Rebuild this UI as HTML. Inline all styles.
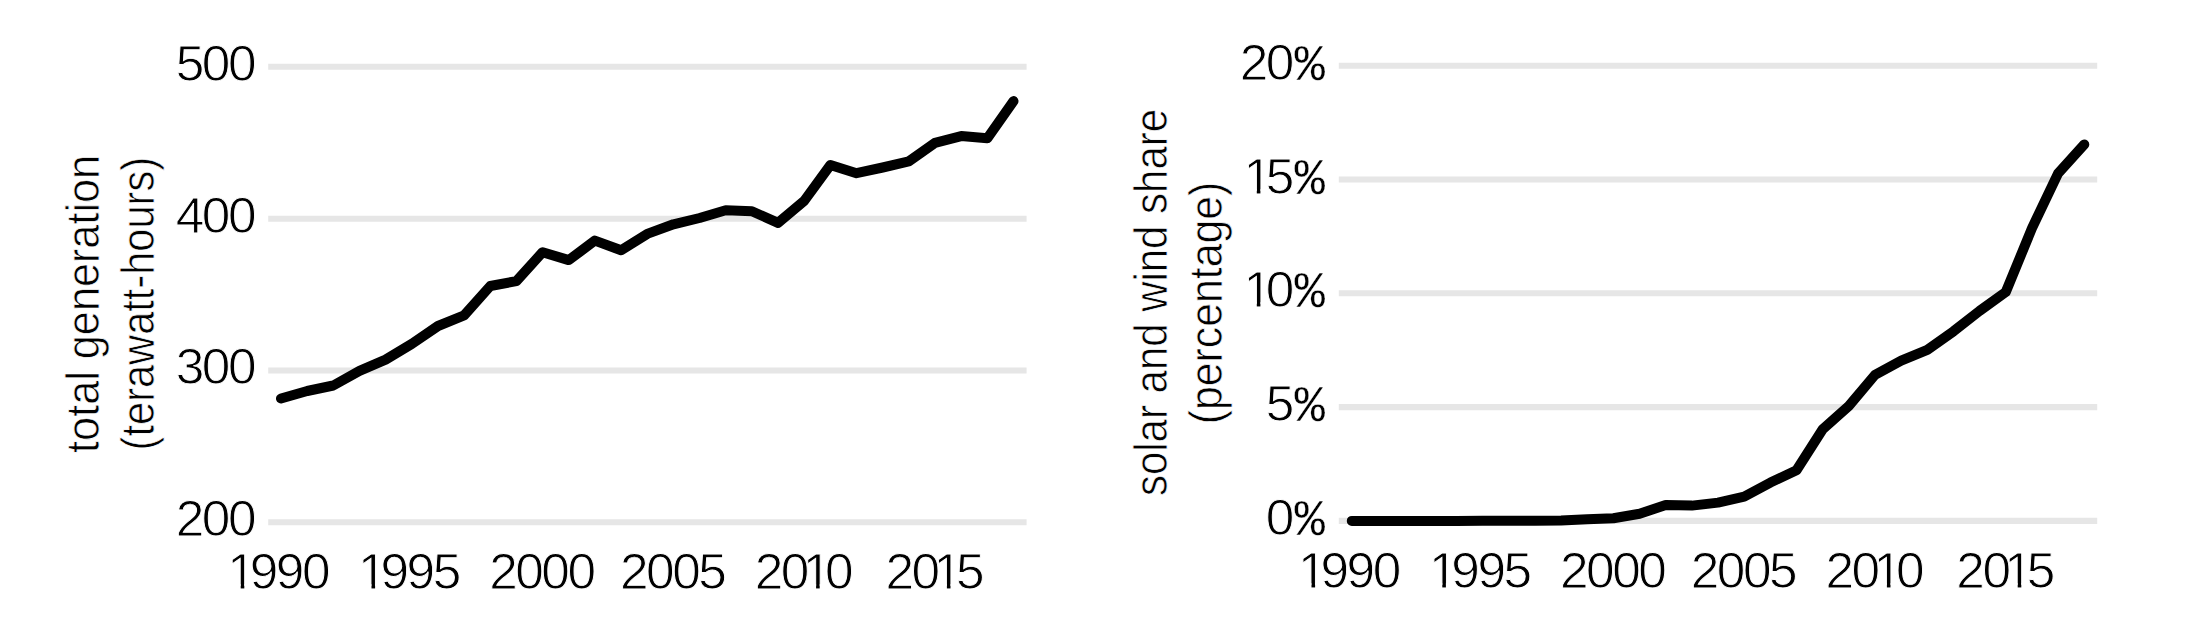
<!DOCTYPE html>
<html lang="en"><head><meta charset="utf-8"><title>Total generation and solar and wind share, 1990-2018</title>
<style>html,body{margin:0;padding:0;background:#fff}body{width:2188px;height:624px;overflow:hidden}svg{display:block}
text{font-family:"Liberation Sans", sans-serif;fill:#000;stroke:#fff}
.n{font-size:49.4px;stroke-width:0.9px}
.p{font-family:"Liberation Mono",monospace;font-size:52.4px;stroke-width:0.3px}
.t{font-size:45.6px;stroke-width:0.7px}
.g{stroke:#e6e6e6;stroke-width:6.1;fill:none}.l{stroke:#000;stroke-width:10;fill:none;stroke-linecap:round;stroke-linejoin:round}.m{fill:#fff;stroke:none}</style></head><body>
<svg width="2188" height="624" viewBox="0 0 2188 624">
<rect width="2188" height="624" fill="#fff" stroke="none"/>
<line class="g" x1="268.2" x2="1026.6" y1="66.8" y2="66.8"/>
<line class="g" x1="268.2" x2="1026.6" y1="218.7" y2="218.7"/>
<line class="g" x1="268.2" x2="1026.6" y1="370.5" y2="370.5"/>
<line class="g" x1="268.2" x2="1026.6" y1="522.3" y2="522.3"/>
<line class="g" x1="1338.8" x2="2097.2" y1="65.8" y2="65.8"/>
<line class="g" x1="1338.8" x2="2097.2" y1="179.5" y2="179.5"/>
<line class="g" x1="1338.8" x2="2097.2" y1="293.3" y2="293.3"/>
<line class="g" x1="1338.8" x2="2097.2" y1="407.1" y2="407.1"/>
<line class="g" x1="1338.8" x2="2097.2" y1="520.9" y2="520.9"/>
<text class="n" transform="scale(1.04 1)" x="169.00 194.05 219.15" y="81.00">500</text>
<text class="n" transform="scale(1.04 1)" x="169.11 194.05 219.15" y="233.00">400</text>
<text class="n" transform="scale(1.04 1)" x="169.10 194.05 219.15" y="384.00">300</text>
<text class="n" transform="scale(1.04 1)" x="168.96 194.05 219.15" y="536.00">200</text>
<text class="n" transform="scale(1.04 1)" x="1192.03 1217.13" y="80.00">20</text>
<text class="p" transform="scale(0.97 1)" x="1334.64" y="80.00">%</text>
<text class="n" transform="scale(1.04 1)" x="1195.59 1217.18" y="194.00">15</text>
<text class="p" transform="scale(0.97 1)" x="1334.64" y="194.00">%</text>
<text class="n" transform="scale(1.04 1)" x="1195.59 1217.13" y="307.00">10</text>
<text class="p" transform="scale(0.97 1)" x="1334.64" y="307.00">%</text>
<text class="n" transform="scale(1.04 1)" x="1217.18" y="421.00">5</text>
<text class="p" transform="scale(0.97 1)" x="1334.64" y="421.00">%</text>
<text class="n" transform="scale(1.04 1)" x="1217.13" y="535.00">0</text>
<text class="p" transform="scale(0.97 1)" x="1334.64" y="535.00">%</text>
<text class="n" transform="scale(1.04 1)" x="218.57 240.12 265.22 290.30" y="589.00">1990</text>
<text class="n" transform="scale(1.04 1)" x="1248.18 1269.74 1294.83 1319.92" y="588.00">1990</text>
<text class="n" transform="scale(1.04 1)" x="344.34 365.89 390.99 416.12" y="589.00">1995</text>
<text class="n" transform="scale(1.04 1)" x="1373.95 1395.51 1420.60 1445.73" y="588.00">1995</text>
<text class="n" transform="scale(1.04 1)" x="470.35 495.45 520.54 545.64" y="589.00">2000</text>
<text class="n" transform="scale(1.04 1)" x="1499.96 1525.06 1550.16 1575.25" y="588.00">2000</text>
<text class="n" transform="scale(1.04 1)" x="596.12 621.21 646.31 671.46" y="589.00">2005</text>
<text class="n" transform="scale(1.04 1)" x="1625.73 1650.83 1675.93 1701.07" y="588.00">2005</text>
<text class="n" transform="scale(1.04 1)" x="725.69 750.78 771.84 793.38" y="589.00">2010</text>
<text class="n" transform="scale(1.04 1)" x="1755.30 1780.40 1801.45 1822.99" y="588.00">2010</text>
<text class="n" transform="scale(1.04 1)" x="851.46 876.55 897.61 919.20" y="589.00">2015</text>
<text class="n" transform="scale(1.04 1)" x="1881.07 1906.17 1927.22 1948.81" y="588.00">2015</text>
<rect class="m" x="1246.32" y="189.26" width="10.47" height="5.74"/>
<rect class="m" x="1260.40" y="189.26" width="10.07" height="5.74"/>
<rect class="m" x="1246.32" y="302.26" width="10.47" height="5.74"/>
<rect class="m" x="1260.40" y="302.26" width="10.07" height="5.74"/>
<rect class="m" x="230.22" y="584.26" width="10.47" height="5.74"/>
<rect class="m" x="244.30" y="584.26" width="10.07" height="5.74"/>
<rect class="m" x="1301.02" y="583.26" width="10.47" height="5.74"/>
<rect class="m" x="1315.10" y="583.26" width="10.07" height="5.74"/>
<rect class="m" x="361.02" y="584.26" width="10.47" height="5.74"/>
<rect class="m" x="375.10" y="584.26" width="10.07" height="5.74"/>
<rect class="m" x="1431.82" y="583.26" width="10.47" height="5.74"/>
<rect class="m" x="1445.90" y="583.26" width="10.07" height="5.74"/>
<rect class="m" x="805.62" y="584.26" width="10.47" height="5.74"/>
<rect class="m" x="819.70" y="584.26" width="10.07" height="5.74"/>
<rect class="m" x="1876.42" y="583.26" width="10.47" height="5.74"/>
<rect class="m" x="1890.50" y="583.26" width="10.07" height="5.74"/>
<rect class="m" x="936.42" y="584.26" width="10.47" height="5.74"/>
<rect class="m" x="950.50" y="584.26" width="10.07" height="5.74"/>
<rect class="m" x="2007.22" y="583.26" width="10.47" height="5.74"/>
<rect class="m" x="2021.30" y="583.26" width="10.07" height="5.74"/>
<polyline class="l" points="281.0,398.5 307.2,391.0 333.3,385.5 359.5,370.9 385.6,359.6 411.8,343.9 438.0,326.0 464.1,315.4 490.3,286.0 516.4,281.1 542.6,252.2 568.8,260.1 594.9,240.6 621.1,250.2 647.2,233.9 673.4,224.3 699.6,218.0 725.7,210.3 751.9,211.2 778.0,222.9 804.2,200.9 830.4,165.0 856.5,173.2 882.7,167.5 908.8,161.4 935.0,142.9 961.2,136.1 987.3,138.3 1013.5,101.1"/>
<polyline class="l" points="1351.8,520.9 1378.0,520.9 1404.1,520.9 1430.3,520.9 1456.4,520.9 1482.6,520.8 1508.8,520.7 1534.9,520.7 1561.1,520.5 1587.2,519.3 1613.4,518.2 1639.6,513.8 1665.7,505.1 1691.9,505.6 1718.0,502.6 1744.2,496.7 1770.4,482.6 1796.5,470.3 1822.7,429.3 1848.8,406.0 1875.0,374.9 1901.2,360.7 1927.3,349.8 1953.5,331.3 1979.6,310.9 2005.8,292.0 2032.0,228.2 2058.1,173.4 2084.3,144.4"/>
<text class="t" transform="translate(98.9 452.9) rotate(-90)" textLength="298.0" lengthAdjust="spacingAndGlyphs">total generation</text>
<text class="t" transform="translate(154.4 450.4) rotate(-90)" textLength="293.5" lengthAdjust="spacingAndGlyphs">(terawatt-hours)</text>
<text class="t" transform="translate(1166.6 496.0) rotate(-90)" textLength="387.0" lengthAdjust="spacingAndGlyphs">solar and wind share</text>
<text class="t" transform="translate(1222.4 424.2) rotate(-90)" textLength="242.5" lengthAdjust="spacingAndGlyphs">(percentage)</text>
</svg></body></html>
